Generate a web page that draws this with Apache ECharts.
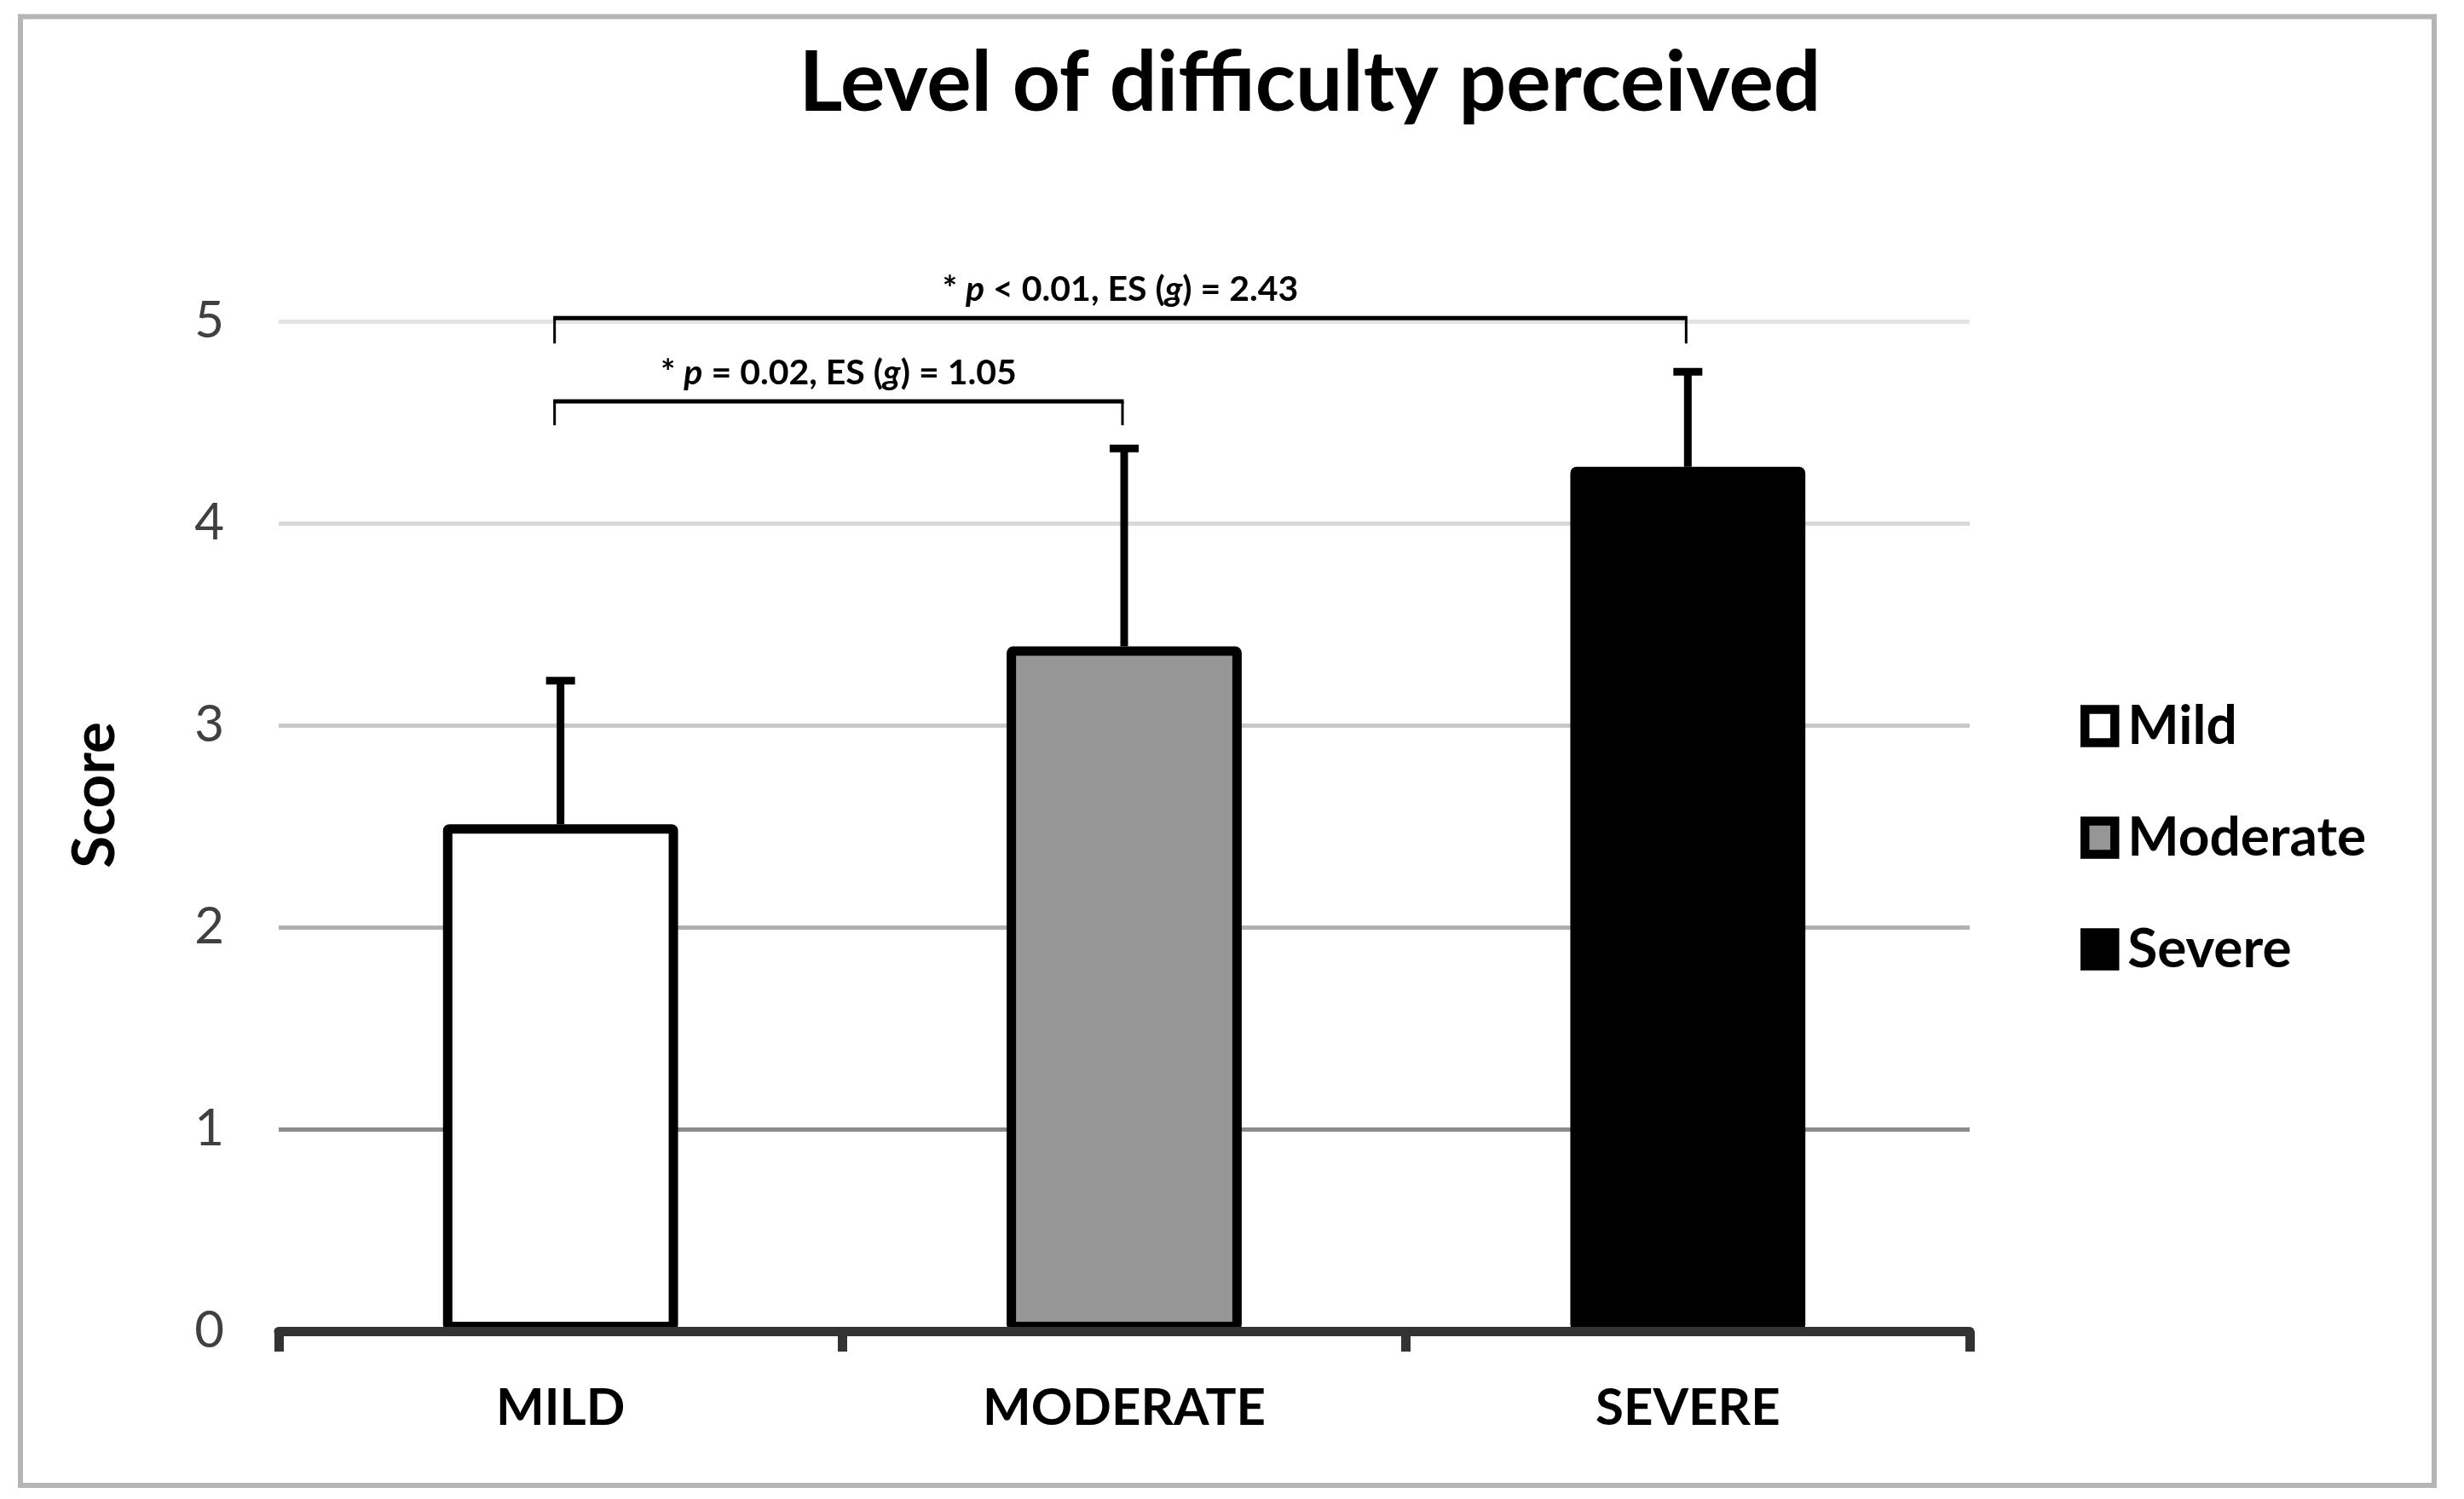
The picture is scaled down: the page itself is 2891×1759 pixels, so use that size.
<!DOCTYPE html>
<html>
<head>
<meta charset="utf-8">
<script src="https://cdn.jsdelivr.net/npm/echarts@6/dist/echarts.min.js"></script>
<style>
html,body{margin:0;padding:0;background:#fff;}
#chart{width:2891px;height:1759px;}
</style>
</head>
<body>
<div id="chart"></div>
<script>
// ---- data ----
const categories = ['MILD', 'MODERATE', 'SEVERE'];
const seriesNames = ['Mild', 'Moderate', 'Severe'];
const means = [2.51, 3.39, 4.28];
const upperBounds = [3.22, 4.37, 4.75];
const yTicks = [0, 1, 2, 3, 4, 5];
const bracketFrom = [0, 0];
const bracketTo = [2, 1];
const bracketLevel = [5.016, 4.603];
const bracketFoot = [4.89, 4.485];
const bracketLabels = [
  '{n|* }{i|p}{n| < 0.01, ES (}{i|g}{n|) = 2.43}',
  '{n|* }{i|p}{n| = 0.02, ES (}{i|g}{n|) = 1.05}'
];

const barColors = ['#ffffff', '#969696', '#000000'];
const FONT = 'Lato';

const chart = echarts.init(document.getElementById('chart'));

const barSeries = seriesNames.map((name, k) => ({
  name: name,
  type: 'bar',
  barWidth: '41.7%',
  barGap: '-100%',
  data: categories.map((c, i) => (i === k ? means[i] : '-')),
  itemStyle: { color: barColors[k], borderColor: '#000', borderWidth: 11, borderRadius: 2 },
  emphasis: { disabled: true },
  z: 3
}));

const option = {
  backgroundColor: '#ffffff',
  animation: false,
  title: {
    text: 'Level of difficulty perceived',
    left: 1532,
    top: 44,
    textAlign: 'center',
    textStyle: { fontFamily: FONT, fontWeight: 'bold', fontSize: 98, color: '#000' }
  },
  legend: {
    orient: 'vertical',
    left: 2436,
    top: 815,
    itemWidth: 35,
    itemHeight: 39,
    itemGap: 67,
    icon: 'rect',
    data: seriesNames,
    itemStyle: { borderColor: '#000', borderWidth: 10.5 },
    textStyle: { fontFamily: FONT, fontWeight: 'bold', fontSize: 64, color: '#000', lineHeight: 64, padding: [0, 0, 0, 10] },
    selectedMode: false
  },
  grid: { left: 327, right: 580, top: 377, bottom: 197, containLabel: false },
  xAxis: {
    type: 'category',
    data: categories,
    boundaryGap: true,
    z: 10,
    axisLine: { show: true, lineStyle: { color: '#333333', width: 11 } },
    axisTick: { show: true, interval: 0, alignWithLabel: false, length: 24, lineStyle: { color: '#333333', width: 11 } },
    axisLabel: { margin: 61, fontFamily: FONT, fontWeight: 'bold', fontSize: 60, color: '#000' },
    splitLine: { show: false }
  },
  yAxis: {
    type: 'value',
    min: yTicks[0],
    max: yTicks[yTicks.length - 1],
    interval: 1,
    axisLine: { show: false },
    axisTick: { show: false },
    axisLabel: { margin: 64, fontFamily: FONT, fontSize: 60, color: '#404040' },
    splitLine: { show: true, lineStyle: { width: 5, color: ['#333333', '#8c8c8c', '#b0b0b0', '#c8c8c8', '#d9d9d9', '#e3e3e3'] } }
  },
  graphic: [
    {
      type: 'rect',
      shape: { x: 24, y: 19.5, width: 2832, height: 1723.5 },
      style: { fill: 'none', stroke: '#b5b5b5', lineWidth: 6 },
      z: 0
    },
    {
      type: 'text',
      x: 112, y: 933,
      rotation: Math.PI / 2,
      style: { text: 'Score', fontFamily: FONT, fontWeight: 'bold', fontSize: 69, fill: '#000', align: 'center', verticalAlign: 'middle' }
    }
  ],
  series: barSeries.concat([
    {
      name: 'errors',
      type: 'custom',
      encode: { x: 0, y: [1, 2] },
      data: categories.map((c, i) => [i, means[i], upperBounds[i]]),
      z: 4,
      silent: true,
      renderItem: function (params, api) {
        const base = api.coord([api.value(0), api.value(1)]);
        const top = api.coord([api.value(0), api.value(2)]);
        return {
          type: 'group',
          children: [
            { type: 'line', shape: { x1: base[0], y1: base[1], x2: top[0], y2: top[1] }, style: { stroke: '#000', lineWidth: 9 } },
            { type: 'rect', shape: { x: top[0] - 17, y: top[1] - 4.5, width: 34, height: 9 }, style: { fill: '#000' } }
          ]
        };
      }
    },
    {
      name: 'brackets',
      type: 'custom',
      encode: { x: 0, y: 2 },
      data: bracketFrom.map((f, i) => [f, bracketTo[i], bracketLevel[i], bracketFoot[i]]),
      z: 5,
      silent: true,
      renderItem: function (params, api) {
        const i = params.dataIndex;
        const a = api.coord([api.value(0), api.value(2)]);
        const b = api.coord([api.value(1), api.value(2)]);
        const aF = api.coord([api.value(0), api.value(3)]);
        const bF = api.coord([api.value(1), api.value(3)]);
        const ax = a[0] - 7;
        const bx = b[0] - 2;
        return {
          type: 'group',
          children: [
            { type: 'line', shape: { x1: ax - 1.5, y1: a[1], x2: bx + 1.5, y2: b[1] }, style: { stroke: '#000', lineWidth: 5 } },
            { type: 'line', shape: { x1: ax, y1: a[1], x2: ax, y2: aF[1] }, style: { stroke: '#000', lineWidth: 3 } },
            { type: 'line', shape: { x1: bx, y1: b[1], x2: bx, y2: bF[1] }, style: { stroke: '#000', lineWidth: 3 } },
            {
              type: 'text',
              x: (ax + bx) / 2,
              y: a[1] - 33,
              style: {
                text: bracketLabels[i],
                align: 'center',
                verticalAlign: 'middle',
                rich: {
                  n: { fontFamily: FONT, fontWeight: 'bold', fontSize: 41, color: '#000' },
                  i: { fontFamily: FONT, fontWeight: 'bold', fontStyle: 'italic', fontSize: 41, color: '#000' }
                }
              }
            }
          ]
        };
      }
    }
  ])
};

chart.setOption(option);
</script>
</body>
</html>
